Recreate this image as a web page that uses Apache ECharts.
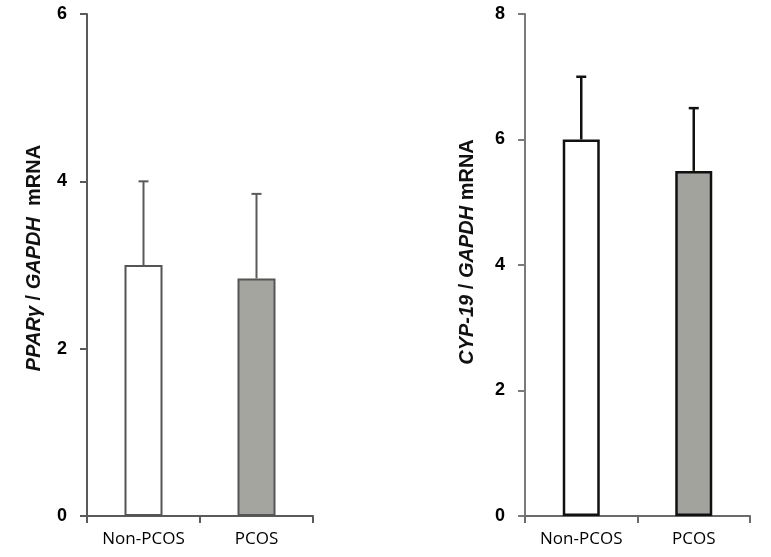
<!DOCTYPE html>
<html>
<head>
<meta charset="utf-8">
<script src="https://cdn.jsdelivr.net/npm/echarts@6/dist/echarts.min.js"></script>
<style>html,body{margin:0;padding:0;background:#fff}#c{width:771px;height:557px}</style>
</head>
<body>
<div id="c"></div>
<script>
var categories = ['Non-PCOS', 'PCOS'];
var ppargMean = [3.0, 2.84];
var ppargErrTop = [4.0, 3.85];
var cyp19Mean = [6.0, 5.5];
var cyp19ErrTop = [7.0, 6.5];

var chart = echarts.init(document.getElementById('c'));

function errBar(color, width, capHalf) {
  return function (params, api) {
    var x = api.value(0), lo = api.value(1), hi = api.value(2);
    var p0 = api.coord([x, lo]);
    var p1 = api.coord([x, hi]);
    var st = { stroke: color, lineWidth: width };
    return {
      type: 'group',
      children: [
        { type: 'line', shape: { x1: p0[0], y1: p0[1], x2: p1[0], y2: p1[1] }, style: st },
        { type: 'line', shape: { x1: p1[0] - capHalf, y1: p1[1], x2: p1[0] + capHalf, y2: p1[1] }, style: st }
      ]
    };
  };
}

var tickLabel = { fontFamily: 'Liberation Sans', fontWeight: 'bold', fontSize: 18, color: '#000', margin: 20 };
var xLabel = { fontFamily: 'Open Sans', fontSize: 17, fontWeight: 500, color: '#000', margin: 15 };
var italicRich = { fontFamily: 'Liberation Sans', fontWeight: 'bold', fontStyle: 'italic', fontSize: 20, color: '#111' };
var plainRich = { fontFamily: 'Liberation Sans', fontWeight: 'bold', fontSize: 20, color: '#111' };

var option = {
  backgroundColor: '#fff',
  animation: false,
  grid: [
    { left: 87, right: 771 - 313, top: 14, bottom: 41 },
    { left: 525, right: 771 - 750, top: 14, bottom: 41 }
  ],
  xAxis: [
    { type: 'category', gridIndex: 0, data: categories,
      axisLine: { lineStyle: { color: '#5a5a5a', width: 2 } },
      axisTick: { show: true, length: 7, lineStyle: { color: '#5a5a5a', width: 2 } },
      axisLabel: xLabel },
    { type: 'category', gridIndex: 1, data: categories,
      axisLine: { lineStyle: { color: '#6a6a6a', width: 2 } },
      axisTick: { show: true, length: 7, lineStyle: { color: '#6a6a6a', width: 2 } },
      axisLabel: xLabel }
  ],
  yAxis: [
    { type: 'value', gridIndex: 0, min: 0, max: 6, interval: 2,
      axisLine: { show: true, lineStyle: { color: '#5a5a5a', width: 2 } },
      axisTick: { show: true, length: 7, lineStyle: { color: '#5a5a5a', width: 2 } },
      splitLine: { show: false },
      axisLabel: tickLabel,
      name: '{i|PPARγ}{p| / }{i|GAPDH}{p|  mRNA}',
      nameLocation: 'middle', nameGap: 43, nameRotate: 90,
      nameTextStyle: { padding: [0, 0, 0, 14], rich: { i: italicRich, p: plainRich } } },
    { type: 'value', gridIndex: 1, min: 0, max: 8, interval: 2,
      axisLine: { show: true, lineStyle: { color: '#7a7a7a', width: 2 } },
      axisTick: { show: true, length: 7, lineStyle: { color: '#7a7a7a', width: 2 } },
      splitLine: { show: false },
      axisLabel: tickLabel,
      name: '{i|CYP-19}{p| / }{i|GAPDH}{p| mRNA}',
      nameLocation: 'middle', nameGap: 48, nameRotate: 90,
      nameTextStyle: { padding: [0, 0, 0, 26], rich: { i: italicRich, p: plainRich } } }
  ],
  series: [
    { type: 'bar', xAxisIndex: 0, yAxisIndex: 0, barWidth: 38,
      data: ppargMean.map(function (v, i) {
        return { value: v, itemStyle: { color: i === 0 ? '#ffffff' : '#a5a5a0', borderColor: '#555', borderWidth: 2 } };
      }) },
    { type: 'custom', xAxisIndex: 0, yAxisIndex: 0, z: 5,
      renderItem: errBar('#5a5a5a', 2, 5),
      data: ppargMean.map(function (v, i) { return [i, v, ppargErrTop[i]]; }) },
    { type: 'bar', xAxisIndex: 1, yAxisIndex: 1, barWidth: 37,
      data: cyp19Mean.map(function (v, i) {
        return { value: v, itemStyle: { color: i === 0 ? '#ffffff' : '#a3a39e', borderColor: '#111', borderWidth: 2.5 } };
      }) },
    { type: 'custom', xAxisIndex: 1, yAxisIndex: 1, z: 5,
      renderItem: errBar('#111', 2.5, 5),
      data: cyp19Mean.map(function (v, i) { return [i, v, cyp19ErrTop[i]]; }) }
  ]
};
chart.setOption(option);
</script>
</body>
</html>
